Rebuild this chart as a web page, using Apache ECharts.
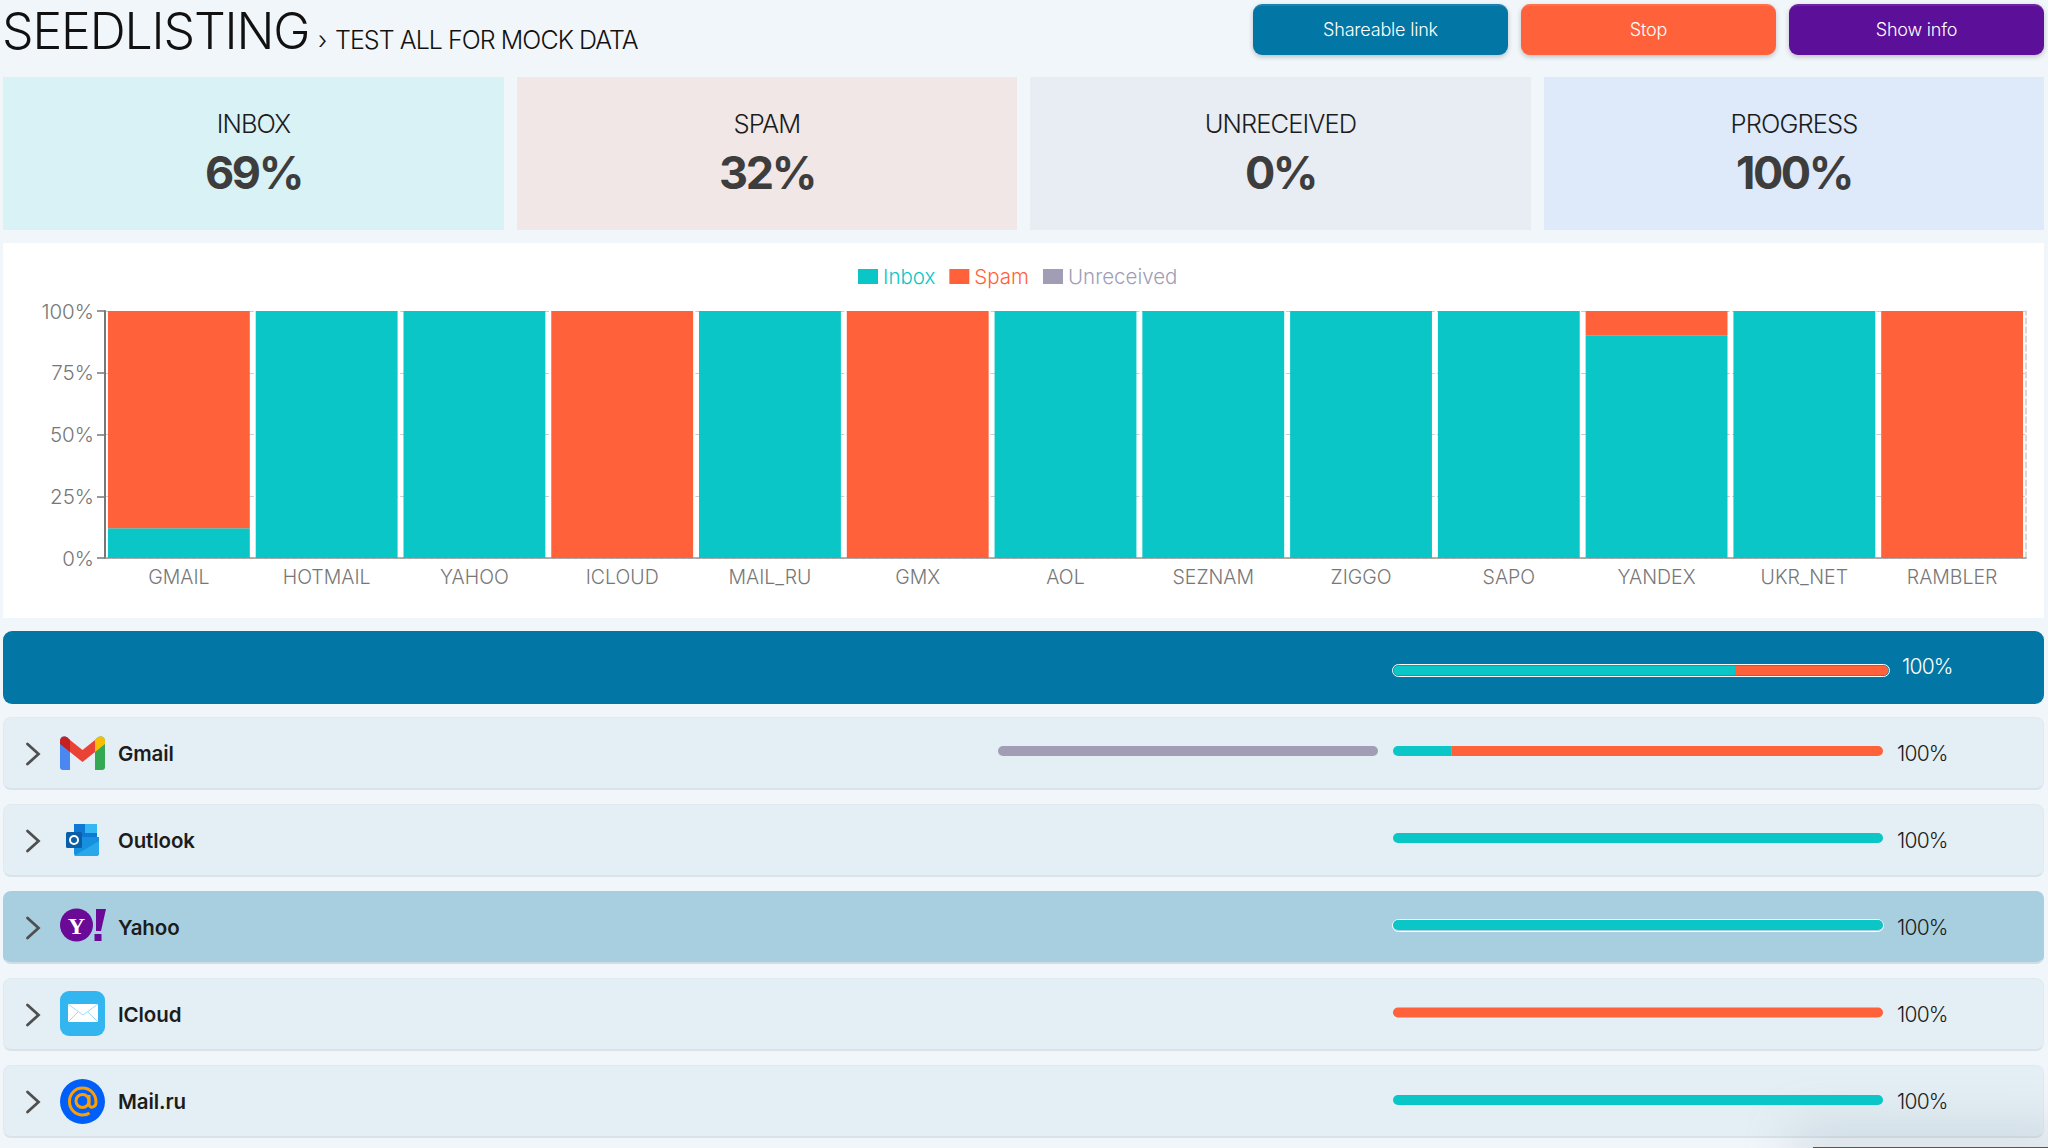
<!DOCTYPE html>
<html><head><meta charset="utf-8">
<script src="https://cdn.jsdelivr.net/npm/echarts@6/dist/echarts.min.js"></script>
<style>
html,body{margin:0;padding:0;width:2048px;height:1148px;overflow:hidden;background:#f1f6fb;font-family:Inter,"Noto Sans",sans-serif;color:#1c1c1c}
.a{position:absolute;box-sizing:border-box;white-space:nowrap}
.btn{top:4px;height:51px;width:255px;border-radius:9px;color:#fff;font-size:18px;text-align:center;box-shadow:0 2px 5px rgba(0,0,0,.22);border-top:2px solid rgba(255,255,255,.1);line-height:47px;font-weight:300;letter-spacing:-.2px}
.card{top:77px;height:153px;text-align:center}
.card .l{position:absolute;left:0;right:0;top:32px;font-size:25.5px;line-height:30px;font-weight:300;letter-spacing:-.9px}
.card .v{position:absolute;left:0;right:0;top:68px;font-size:45px;line-height:56px;font-weight:700;color:#3d3d3d;letter-spacing:-2.4px}
.row{left:3px;width:2041px;height:73px;border-radius:8px;background:#e4eff5;border:1px solid #e1eaf0;border-bottom:2px solid #d9e3e9}
.name{left:118px;font-size:20.5px;line-height:28px;font-weight:600;color:#1c1c1c;letter-spacing:-.1px}
.pct{font-size:21px;line-height:28px;font-weight:300;letter-spacing:-.8px}
.track{border:1.5px solid #fff;border-radius:7px}
svg{position:absolute}
#chart{position:absolute;left:0;top:0;width:2048px;height:1148px}
#chart svg{position:static}
</style></head><body>
<div class="a" style="left:2px;top:1px;font-size:50px;line-height:60px;font-weight:300;letter-spacing:-1.15px;color:#111">SEEDLISTING</div>
<div class="a" style="left:318px;top:24px;font-size:25px;line-height:32px;font-weight:300;color:#111;letter-spacing:-.95px">›</div>
<div class="a" style="left:335px;top:24px;font-size:25px;line-height:32px;font-weight:300;color:#111;letter-spacing:-.95px">TEST ALL FOR MOCK DATA</div>
<div class="a btn" style="left:1253px;background:#0277a5">Shareable link</div>
<div class="a btn" style="left:1521px;background:#ff623a">Stop</div>
<div class="a btn" style="left:1789px;background:#5c0f99">Show info</div>
<div class="a card" style="left:3px;width:501px;background:#d9f2f6"><div class="l">INBOX</div><div class="v">69%</div></div>
<div class="a card" style="left:517px;width:500px;background:#f2e7e7"><div class="l">SPAM</div><div class="v">32%</div></div>
<div class="a card" style="left:1030px;width:501px;background:#e8ecf3"><div class="l">UNRECEIVED</div><div class="v">0%</div></div>
<div class="a card" style="left:1544px;width:500px;background:#dee9fa"><div class="l">PROGRESS</div><div class="v">100%</div></div>
<div class="a" style="left:3px;top:243px;width:2041px;height:375px;background:#fff"></div>
<div class="a" style="left:3px;top:631px;width:2041px;height:73px;background:#0277a5;border-radius:9px"></div>
<div class="a track" style="left:1392px;top:664px;width:498px;height:13px"></div>
<div class="a pct" style="left:1902px;top:653px;color:#fff">100%</div>
<div id="rows"></div>
<div class="a" style="left:1813px;top:1147px;width:235px;height:2px;background:#555;box-shadow:0 0 50px 22px rgba(120,135,150,.22)"></div>
<div id="chart"></div>
<script>
// Chart data
const categories=['GMAIL','HOTMAIL','YAHOO','ICLOUD','MAIL_RU','GMX','AOL','SEZNAM','ZIGGO','SAPO','YANDEX','UKR_NET','RAMBLER'];
const inboxValues=[12,100,100,0,100,0,100,100,100,100,90.2,100,0];
const spamValues=[88,0,0,100,0,100,0,0,0,0,9.8,0,100];
const unreceivedValues=[0,0,0,0,0,0,0,0,0,0,0,0,0];
const yTickStep=25;
// Progress bars
const providerNames=['Gmail','Outlook','Yahoo','ICloud','Mail.ru'];
const providerInbox=[12,100,100,0,100];
const providerSpam=[88,0,0,100,0];
const providerPercent=['100%','100%','100%','100%','100%'];
const totalInbox=69;
const totalSpam=31;
const gmailUnreceivedBar=100;

const C={inbox:'#0ac6c6',spam:'#ff623a',un:'#a09db5'};
const rowTops=[717,804,891,978,1065];
const rowBarTops=[746,833,920,1007.5,1095];
const icons=[
`<svg style="left:60px;top:736px" width="45" height="34" viewBox="0 0 45 34"><path d="M0 5C0 1 4-1 8 2L10 4V34H3C1 34 0 33 0 31Z" fill="#4a87f0"/><path d="M35 4L37 2C41-1 45 1 45 5V31C45 33 44 34 42 34H35Z" fill="#34a853"/><path d="M10 4L22.5 14 35 4V16L22.5 26 10 16Z" fill="#ea4335"/><path d="M0 5C0 1 4-1 8 2L10 4V16L0 8Z" fill="#c5221f"/><path d="M35 4L37 2C41-1 45 1 45 5V8L35 16Z" fill="#fbbc04"/></svg>`,
`<svg style="left:66px;top:823px" width="33" height="34" viewBox="0 0 33 34"><rect x="8" y="1" width="23" height="16" fill="#0f78d4"/><rect x="19" y="1" width="12" height="9" fill="#35b8f1"/><path d="M8 14H33V30C33 32 32 33 30 33H10C9 33 8 32 8 30Z" fill="#1490df"/><path d="M8 33L33 18V30C33 32 32 33 30 33Z" fill="#28a8ea"/><rect x="0" y="9" width="16" height="16" rx="1.5" fill="#0a5ea8"/><circle cx="8" cy="17" r="4" fill="none" stroke="#fff" stroke-width="2"/></svg>`,
`<svg style="left:60px;top:908px" width="46" height="34" viewBox="0 0 46 34"><circle cx="16.5" cy="17" r="16.5" fill="#6a0a96"/><text x="16.5" y="26" font-family="Liberation Serif" font-weight="700" font-size="24" text-anchor="middle" fill="#fff">Y</text><path d="M36 1H46L41 23H36Z" fill="#6a0a96"/><rect x="34.500" y="26" width="7" height="7" fill="#6a0a96"/></svg>`,
`<svg style="left:60px;top:991px" width="45" height="45" viewBox="0 0 45 45"><rect width="45" height="45" rx="9" fill="#33b6f0"/><rect x="8" y="13" width="30" height="18" rx="1" fill="#fff"/><path d="M8 13L23 24 38 13M8 31L18 21M38 31L28 21" fill="none" stroke="#9fdcf6" stroke-width="1"/></svg>`,
`<svg style="left:60px;top:1079px" width="45" height="45" viewBox="0 0 45 45"><circle cx="22.500" cy="22.500" r="22.500" fill="#005ff9"/><circle cx="22.500" cy="22" r="6.500" fill="none" stroke="#ff9e00" stroke-width="3"/><path d="M29 16V25C29 30 36 29 36 23C36 15 30 9 22.500 9C15 9 9.500 15 9.500 22.500C9.500 30 15 36 22.500 36C25 36 27.500 35.500 29.500 34" fill="none" stroke="#ff9e00" stroke-width="3"/></svg>`
];
let h='';
providerNames.forEach((n,i)=>{
  const t=rowTops[i],sel=i===2;
  h+=`<div class="a row" style="top:${t}px;${sel?'background:#a8cfe0;border-color:#a8cfe0;border-bottom-color:#cfdde5':''}"></div>`;
  h+=`<svg style="left:24px;top:${t+25}px" width="18" height="24" viewBox="0 0 18 24"><path d="M3.500 2L14.500 12 3.500 22" fill="none" stroke="#4f4f4f" stroke-width="2.800" stroke-linecap="round"/></svg>`;
  h+=icons[i];
  h+=`<div class="a name" style="top:${t+23}px">${n}</div>`;
  h+=`<div class="a pct" style="left:1897px;top:${t+23}px">${providerPercent[i]}</div>`;
  if(sel)h+=`<div class="a track" style="left:1392px;top:${rowBarTops[i]-1.500}px;width:492px;height:13px"></div>`;
});
document.getElementById('rows').innerHTML=h;

const chart=echarts.init(document.getElementById('chart'),null,{renderer:'svg',width:2048,height:1148});
const axisFont='Inter';
const grids=[{left:105,right:22,top:311,height:247}];
const xAxes=[{gridIndex:0,type:'category',data:categories,
  axisLine:{lineStyle:{color:'#999',width:1.5}},axisTick:{alignWithLabel:true,length:8,lineStyle:{color:'#777',width:1.5}},
  axisLabel:{color:'#777',fontFamily:axisFont,fontSize:19.5,fontWeight:300,margin:9,interval:0}}];
const yAxes=[{gridIndex:0,type:'value',min:0,max:100,interval:yTickStep,
  axisLine:{show:true,lineStyle:{color:'#777',width:2}},axisTick:{show:true,length:8,lineStyle:{color:'#777',width:1.5}},
  axisLabel:{formatter:'{value}%',color:'#777',fontFamily:axisFont,fontSize:20.5,fontWeight:300,margin:11},
  splitLine:{lineStyle:{color:'#ccc',type:'dashed',width:1.2}}},
 {gridIndex:0,type:'value',position:'right',min:0,max:100,interval:yTickStep,
  axisLine:{show:true,lineStyle:{color:'#ccc',type:'dashed',width:1.5}},axisTick:{show:false},axisLabel:{show:false},splitLine:{show:false}}];
const series=[
 {name:'Inbox',type:'bar',stack:'main',barCategoryGap:'4%',xAxisIndex:0,yAxisIndex:0,data:inboxValues,itemStyle:{color:C.inbox}},
 {name:'Spam',type:'bar',stack:'main',xAxisIndex:0,yAxisIndex:0,data:spamValues,itemStyle:{color:C.spam}},
 {name:'Unreceived',type:'bar',stack:'main',xAxisIndex:0,yAxisIndex:0,data:unreceivedValues,itemStyle:{color:C.un}}
];
function addProgress(box,parts){
  const g=grids.length,xi=xAxes.length,yi=yAxes.length;
  grids.push({left:box.left,top:box.top,width:box.width,height:box.height});
  xAxes.push({gridIndex:g,type:'value',min:0,max:100,show:false});
  yAxes.push({gridIndex:g,type:'category',data:['p'],show:false});
  const nz=parts.filter(p=>p.v>0);
  parts.forEach(p=>{
    const first=nz[0]===p,last=nz[nz.length-1]===p,r=box.height/2;
    series.push({type:'bar',stack:'p'+g,xAxisIndex:xi,yAxisIndex:yi,barWidth:box.height,silent:true,
      data:[{value:p.v,itemStyle:{color:p.c,borderRadius:[first?r:0,last?r:0,last?r:0,first?r:0]}}]});
  });
}
addProgress({left:1393.5,top:665.5,width:495,height:10},[{v:totalInbox,c:C.inbox},{v:totalSpam,c:C.spam}]);
providerNames.forEach((n,i)=>addProgress({left:1393,top:rowBarTops[i],width:490,height:10},[{v:providerInbox[i],c:C.inbox},{v:providerSpam[i],c:C.spam}]));
addProgress({left:998,top:rowBarTops[0],width:380,height:10},[{v:gmailUnreceivedBar,c:C.un}]);
chart.setOption({
  animation:false,backgroundColor:'transparent',
  legend:{left:858,top:266,padding:0,itemWidth:20,itemHeight:15,itemGap:14,icon:'rect',selectedMode:false,
    textStyle:{fontFamily:axisFont,fontSize:20.5,fontWeight:300},
    data:[{name:'Inbox',textStyle:{color:C.inbox}},{name:'Spam',textStyle:{color:C.spam}},{name:'Unreceived',textStyle:{color:C.un}}]},
  grid:grids,xAxis:xAxes,yAxis:yAxes,series
});
</script>
</body></html>
